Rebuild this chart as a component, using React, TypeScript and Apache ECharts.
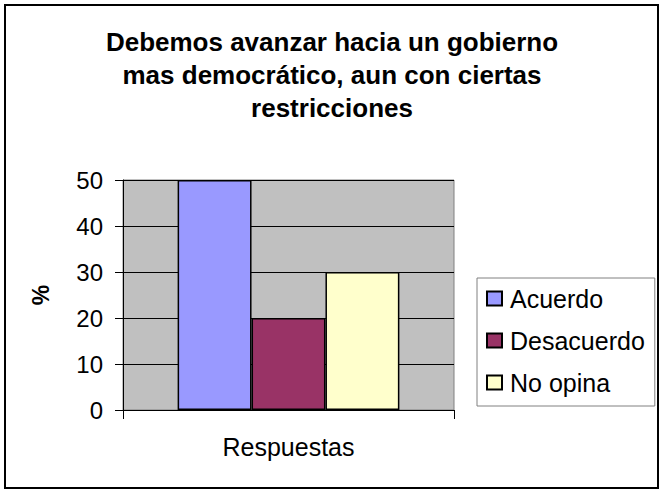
import React, { useEffect, useRef } from "react";
import * as echarts from "echarts";

const titleLines = ["Debemos avanzar hacia un gobierno", "mas democrático, aun con ciertas", "restricciones"];
const categories = ["Respuestas"];
const seriesNames = ["Acuerdo", "Desacuerdo", "No opina"];
const seriesValues = [[50], [20], [30]];
const seriesColors = ["#9999FF", "#993366", "#FFFFCC"];
const yTicks = { min: 0, max: 50, interval: 10 };
const yName = "%";

const FONT = "'Liberation Sans', Arial, sans-serif";

export default function App() {
  const ref = useRef<HTMLDivElement>(null);
  useEffect(() => {
    document.body.style.margin = "0";
    const chart = echarts.init(ref.current!, null, { renderer: "svg" });
    chart.setOption({
      animation: false,
      backgroundColor: "#ffffff",
      textStyle: { fontFamily: FONT },
      title: {
        text: titleLines.join("\n"),
        left: "center",
        top: 20,
        textStyle: { fontFamily: FONT, fontSize: 26, fontWeight: "bold", color: "#000", lineHeight: 33 },
      },
      graphic: [
        {
          type: "rect",
          shape: { x: 5, y: 5, width: 653, height: 483 },
          style: { fill: "none", stroke: "#000", lineWidth: 2 },
          z: 100,
        },
      ],
      grid: {
        left: 123,
        top: 180,
        right: 210,
        bottom: 85,
        show: true,
        backgroundColor: "#C0C0C0",
        borderColor: "#808080",
        borderWidth: 1,
      },
      legend: {
        orient: "vertical",
        left: 477,
        top: 278,
        data: seriesNames,
        backgroundColor: "#ffffff",
        borderColor: "#808080",
        borderWidth: 1,
        padding: [8, 10, 11, 9],
        itemWidth: 15,
        itemHeight: 14,
        itemGap: 17,
        icon: "rect",
        textStyle: { fontFamily: FONT, fontSize: 25, color: "#000", padding: [0, 0, 0, 3] },
      },
      xAxis: {
        type: "category",
        data: categories,
        axisLine: { lineStyle: { color: "#000", width: 1 } },
        axisTick: { show: true, length: 9, lineStyle: { color: "#000" } },
        axisLabel: { fontFamily: FONT, fontSize: 25, color: "#000", margin: 24 },
        splitLine: { show: false },
      },
      yAxis: {
        type: "value",
        min: yTicks.min,
        max: yTicks.max,
        interval: yTicks.interval,
        name: yName,
        nameLocation: "middle",
        nameRotate: 90,
        nameGap: 71,
        nameTextStyle: { fontFamily: FONT, fontSize: 23, fontWeight: "bold", color: "#000" },
        axisLine: { show: true, lineStyle: { color: "#000", width: 1 } },
        axisTick: { show: true, length: 8, lineStyle: { color: "#000" } },
        axisLabel: { fontFamily: FONT, fontSize: 24, color: "#000", margin: 20 },
        splitLine: { show: true, lineStyle: { color: "#000", width: 1 } },
      },
      series: seriesNames.map((name, i) => ({
        name,
        type: "bar",
        data: seriesValues[i],
        barGap: "0%",
        barCategoryGap: "33%",
        itemStyle: { color: seriesColors[i], borderColor: "#000", borderWidth: 1.5 },
      })),
    });
    return () => chart.dispose();
  }, []);
  return <div ref={ref} style={{ position: "absolute", left: 0, top: 0, width: 664, height: 495 }} />;
}
